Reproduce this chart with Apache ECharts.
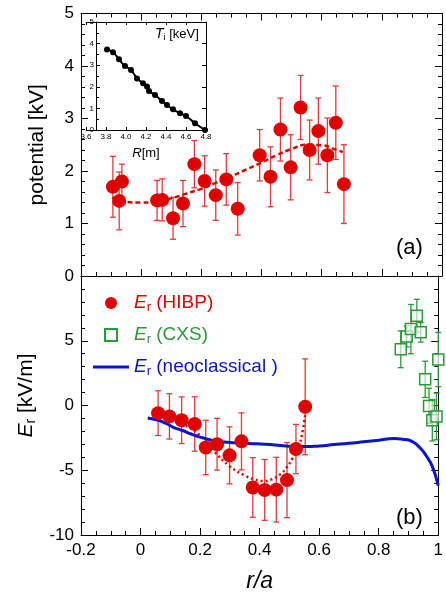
<!DOCTYPE html>
<html>
<head>
<meta charset="utf-8">
<script src="https://cdn.jsdelivr.net/npm/echarts@6/dist/echarts.min.js"></script>
<style>html,body{margin:0;padding:0;background:#fff}#c{width:446px;height:594px}</style>
</head>
<body>
<div id="c"></div>
<script>
// ---- data ----
const potX   = [-0.094,-0.073,-0.064,0.053,0.070,0.106,0.139,0.177,0.211,0.248,0.283,0.321,0.394,0.430,0.463,0.497,0.530,0.560,0.589,0.619,0.647,0.674];
const potV   = [1.70,1.43,1.80,1.44,1.45,1.10,1.38,2.13,1.81,1.54,1.84,1.28,2.30,1.89,2.79,2.07,3.21,2.40,2.76,2.30,2.92,1.75];
const potErr = [0.58,0.55,0.33,0.38,0.40,0.40,0.44,0.45,0.48,0.48,0.49,0.50,0.49,0.57,0.60,0.62,0.61,0.57,0.63,0.71,0.70,0.75];
const potFitX = [-0.095,-0.08,-0.05,0,0.05,0.1,0.15,0.2,0.25,0.3,0.35,0.4,0.45,0.5,0.55,0.6,0.65,0.67];
const potFitV = [1.50,1.44,1.41,1.40,1.42,1.48,1.57,1.66,1.78,1.90,2.03,2.16,2.30,2.42,2.50,2.49,2.40,2.36];

const tiR = [3.81,3.87,3.93,3.99,4.05,4.11,4.17,4.21,4.23,4.29,4.36,4.41,4.47,4.54,4.60,4.69,4.79];
const tiV = [3.73,3.60,3.27,2.96,2.78,2.39,2.16,2.01,1.81,1.62,1.34,1.16,0.96,0.77,0.65,0.31,0.00];

const erX   = [0.059,0.097,0.138,0.182,0.219,0.257,0.299,0.339,0.377,0.417,0.456,0.492,0.522,0.553];
const erV   = [-0.59,-0.84,-1.14,-1.43,-3.24,-2.99,-3.85,-2.77,-6.33,-6.52,-6.50,-5.76,-3.36,-0.10];
const erErr = [1.73,1.75,1.80,2.10,2.10,2.00,2.20,2.20,2.30,2.35,2.50,2.90,1.90,3.70];
const erFitX = [0.06,0.10,0.14,0.20,0.25,0.30,0.35,0.38,0.41,0.44,0.47,0.49,0.51,0.53,0.545,0.555];
const erFitV = [-0.6,-0.9,-1.39,-2.3,-3.6,-4.7,-5.4,-5.7,-5.83,-5.7,-5.3,-4.8,-4.1,-3.24,-1.9,-0.3];

const cxsX   = [0.874,0.894,0.908,0.928,0.941,0.956,0.969,0.980,0.994,1.000];
const cxsV   = [4.34,5.33,5.90,6.93,5.65,2.02,-0.03,-1.14,-0.84,3.55];
const cxsErr = [1.42,0.80,1.90,1.27,0.75,1.40,1.36,1.60,1.80,2.10];

const neoX = [0.024,0.06,0.086,0.11,0.141,0.17,0.197,0.225,0.252,0.28,0.308,0.363,0.419,0.47,0.51,0.56,0.6,0.65,0.7,0.75,0.8,0.85,0.88,0.91,0.94,0.96,0.98,1.0];
const neoV = [-0.96,-1.15,-1.39,-1.68,-1.93,-2.2,-2.42,-2.6,-2.74,-2.82,-2.87,-2.94,-2.99,-3.08,-3.16,-3.17,-3.12,-3.02,-2.92,-2.8,-2.68,-2.55,-2.6,-2.75,-3.3,-3.9,-4.7,-6.2];

const xTicks    = ['-0.2','0','0.2','0.4','0.6','0.8','1'];
const yTopTicks = ['0','1','2','3','4','5'];
const yBotTicks = ['-10','-5','0','5',''];
const tiRTicks  = ['3.6','3.8','4.0','4.2','4.4','4.6','4.8'];
const tiVTicks  = ['0','1','2','3','4','5'];

const legendNames = {HIBP:' (HIBP)', CXS:' (CXS)', neoclassical:' (neoclassical )'};

// ---- helpers ----
const FONT = '"Liberation Sans", Arial, sans-serif';
const RED = '#e00000', RED_ERR = '#e43a3a', GREEN = '#2a9a3a', BLUE = '#0a14c8';
const zip = (a, b, c) => a.map((v, i) => c ? [v, b[i], c[i]] : [v, b[i]]);
function errBar(color, cap, lw) {
  return function (params, api) {
    const x = api.value(0), y = api.value(1), e = api.value(2);
    const p1 = api.coord([x, y + e]), p2 = api.coord([x, y - e]);
    const st = {stroke: color, lineWidth: lw};
    return {type: 'group', children: [
      {type: 'line', shape: {x1: p1[0], y1: p1[1], x2: p2[0], y2: p2[1]}, style: st},
      {type: 'line', shape: {x1: p1[0] - cap, y1: p1[1], x2: p1[0] + cap, y2: p1[1]}, style: st},
      {type: 'line', shape: {x1: p2[0] - cap, y1: p2[1], x2: p2[0] + cap, y2: p2[1]}, style: st}
    ]};
  };
}
const axLine = {show: true, onZero: false, lineStyle: {color: '#000', width: 1}};
function mainX(grid, pos, labels) {
  return {gridIndex: grid, type: 'value', position: pos, min: -0.2, max: 1, interval: 0.2,
    axisLine: axLine, splitLine: {show: false},
    axisTick: {show: true, inside: true, length: 7, lineStyle: {color: '#000'}},
    minorTick: {show: true, splitNumber: 4, length: 4, lineStyle: {color: '#000'}},
    axisLabel: labels ? {show: true, margin: 7, fontSize: 17, color: '#000', fontFamily: FONT,
      formatter: v => xTicks[Math.round((v + 0.2) / 0.2)]} : {show: false}};
}
function mainY(grid, pos, min, max, interval, minorSplit, labels, arr) {
  return {gridIndex: grid, type: 'value', position: pos, min: min, max: max, interval: interval,
    axisLine: axLine, splitLine: {show: false},
    axisTick: {show: true, inside: true, length: 7, lineStyle: {color: '#000'}},
    minorTick: {show: true, splitNumber: minorSplit, length: 4, lineStyle: {color: '#000'}},
    axisLabel: labels ? {show: true, margin: 7, fontSize: 17, color: '#000', fontFamily: FONT,
      formatter: v => arr[Math.round((v - min) / interval)]} : {show: false}};
}

const chart = echarts.init(document.getElementById('c'), null, {renderer: 'canvas'});
const richSub = {
  e: {fontStyle: 'italic', fontSize: 19, lineHeight: 22, fontFamily: FONT},
  s: {fontSize: 13, lineHeight: 8, verticalAlign: 'bottom', fontFamily: FONT}
};

const option = {
  animation: false,
  backgroundColor: '#fff',
  textStyle: {fontFamily: FONT},
  grid: [
    {left: 81, top: 13.5, width: 361, height: 262.5},
    {left: 81, top: 276, width: 361, height: 270.5},
    {left: 86, top: 22, width: 120, height: 108}
  ],
  xAxis: [
    mainX(0, 'bottom', false),
    mainX(0, 'top', false),
    Object.assign(mainX(1, 'bottom', true), {name: 'r/a', nameLocation: 'middle', nameGap: 35,
      nameTextStyle: {fontSize: 23, fontStyle: 'italic', color: '#000', fontFamily: FONT}}),
    Object.assign(mainX(1, 'top', false), {axisTick: {show: false}, minorTick: {show: false}}),
    {gridIndex: 2, type: 'value', position: 'bottom', min: 3.6, max: 4.8, interval: 0.2,
      axisLine: axLine, splitLine: {show: false},
      axisTick: {show: true, inside: true, length: 3, lineStyle: {color: '#000'}},
      axisLabel: {show: true, margin: 3, fontSize: 8, color: '#000', fontFamily: FONT,
        formatter: v => tiRTicks[Math.round((v - 3.6) / 0.2)]},
      name: '{i|R}[m]', nameLocation: 'middle', nameGap: 17,
      nameTextStyle: {fontSize: 13, color: '#000', fontFamily: FONT, rich: {i: {fontStyle: 'italic', fontSize: 13, fontFamily: FONT}}}},
    {gridIndex: 2, type: 'value', position: 'top', min: 3.6, max: 4.8, interval: 0.2,
      axisLine: axLine, splitLine: {show: false},
      axisTick: {show: true, inside: true, length: 3, lineStyle: {color: '#000'}},
      axisLabel: {show: false}}
  ],
  yAxis: [
    Object.assign(mainY(0, 'left', 0, 5, 1, 5, true, yTopTicks), {name: 'potential [kV]', nameLocation: 'middle', nameGap: 33,
      nameTextStyle: {fontSize: 21, color: '#000', fontFamily: FONT}}),
    mainY(0, 'right', 0, 5, 1, 5, false),
    Object.assign(mainY(1, 'left', -10, 10, 5, 5, true, yBotTicks), {name: '{e|E}{s|r} [kV/m]', nameLocation: 'middle', nameGap: 33,
      nameTextStyle: {fontSize: 21, color: '#000', fontFamily: FONT, padding: [0, 0, 0, 20],
        rich: {e: {fontStyle: 'italic', fontSize: 21, fontFamily: FONT, lineHeight: 24}, s: {fontSize: 14, lineHeight: 8, verticalAlign: 'bottom', fontFamily: FONT}}}}),
    mainY(1, 'right', -10, 10, 5, 5, false),
    {gridIndex: 2, type: 'value', position: 'left', offset: -10, min: 0, max: 5, interval: 1,
      axisLine: axLine, splitLine: {show: false},
      axisTick: {show: true, inside: true, length: 4, lineStyle: {color: '#000'}},
      minorTick: {show: true, splitNumber: 2, length: 3, lineStyle: {color: '#000'}},
      axisLabel: {show: true, margin: 2, fontSize: 8, color: '#000', fontFamily: FONT,
        formatter: v => tiVTicks[Math.round(v)]}},
    {gridIndex: 2, type: 'value', position: 'right', min: 0, max: 5, interval: 1,
      axisLine: axLine, splitLine: {show: false},
      axisTick: {show: true, inside: true, length: 4, lineStyle: {color: '#000'}},
      axisLabel: {show: false}}
  ],
  legend: {
    orient: 'vertical', left: 88, top: 287, itemWidth: 36, itemHeight: 12, itemGap: 10,
    selectedMode: false, symbolKeepAspect: true,
    data: [
      {name: 'HIBP', icon: 'circle', textStyle: {color: RED}},
      {name: 'CXS', icon: 'path://M0,0H10V10H0Z', textStyle: {color: GREEN}},
      {name: 'neoclassical', icon: 'path://M0,0H36V3H0Z', itemStyle: {color: BLUE}, textStyle: {color: BLUE}}
    ],
    formatter: n => '{e|E}{s|r}' + legendNames[n],
    textStyle: {fontSize: 19, lineHeight: 22, fontFamily: FONT, rich: richSub}
  },
  graphic: [
    {type: 'text', left: 396, top: 237, style: {text: '(a)', fontSize: 22, fontFamily: FONT, fill: '#000'}},
    {type: 'text', left: 396, top: 507, style: {text: '(b)', fontSize: 22, fontFamily: FONT, fill: '#000'}},
    {type: 'text', left: 155, top: 27, style: {text: '{i|T}{s|i} [keV]', fontSize: 13, fontFamily: FONT, fill: '#000',
      rich: {i: {fontStyle: 'italic', fontSize: 14, lineHeight: 16, fontFamily: FONT}, s: {fontSize: 9, lineHeight: 6, verticalAlign: 'bottom', fontFamily: FONT}}}}
  ],
  series: [
    {type: 'custom', name: 'potErr', xAxisIndex: 0, yAxisIndex: 0, renderItem: errBar(RED_ERR, 3, 1.3),
      encode: {x: 0, y: 1}, data: zip(potX, potV, potErr), z: 2, silent: true},
    {type: 'line', name: 'potFit', xAxisIndex: 0, yAxisIndex: 0, data: zip(potFitX, potFitV), smooth: true,
      symbol: 'none', lineStyle: {color: RED, width: 2.5, type: [5, 3]}, z: 3},
    {type: 'scatter', name: 'potential', xAxisIndex: 0, yAxisIndex: 0, data: zip(potX, potV),
      symbol: 'circle', symbolSize: 14, itemStyle: {color: RED, opacity: 1}, z: 4},

    {type: 'line', name: 'Ti', xAxisIndex: 4, yAxisIndex: 4, data: zip(tiR, tiV), smooth: true,
      symbol: 'circle', symbolSize: 6, lineStyle: {color: '#000', width: 2}, itemStyle: {color: '#000'}, z: 5},

    {type: 'custom', name: 'hibpErr', xAxisIndex: 2, yAxisIndex: 2, renderItem: errBar(RED_ERR, 3, 1.3),
      encode: {x: 0, y: 1}, data: zip(erX, erV, erErr), z: 2, silent: true},
    {type: 'line', name: 'hibpFit', xAxisIndex: 2, yAxisIndex: 2, data: zip(erFitX, erFitV), smooth: true,
      symbol: 'none', lineStyle: {color: RED, width: 2.5, type: [2, 3]}, z: 3},
    {type: 'custom', name: 'cxsErr', xAxisIndex: 2, yAxisIndex: 2, renderItem: errBar(GREEN, 3, 1.3),
      encode: {x: 0, y: 1}, data: zip(cxsX, cxsV, cxsErr), z: 2, silent: true},
    {type: 'line', name: 'neoclassical', xAxisIndex: 2, yAxisIndex: 2, data: zip(neoX, neoV), smooth: true,
      symbol: 'none', lineStyle: {color: BLUE, width: 3}, itemStyle: {color: BLUE}, z: 3},
    {type: 'scatter', name: 'HIBP', xAxisIndex: 2, yAxisIndex: 2, data: zip(erX, erV),
      symbol: 'circle', symbolSize: 14, itemStyle: {color: RED, opacity: 1}, z: 4},
    {type: 'scatter', name: 'CXS', xAxisIndex: 2, yAxisIndex: 2, data: zip(cxsX, cxsV),
      symbol: 'rect', symbolSize: 11, itemStyle: {color: 'rgba(255,255,255,0.6)', borderColor: GREEN, borderWidth: 1.5, opacity: 1}, z: 4}
  ]
};
chart.setOption(option);
</script>
</body>
</html>
